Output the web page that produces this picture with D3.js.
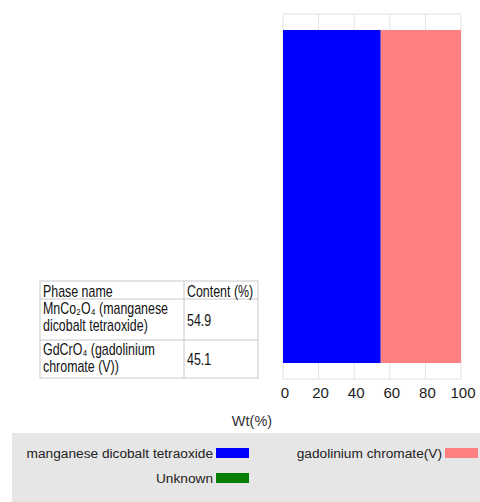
<!DOCTYPE html>
<html>
<head>
<meta charset="utf-8">
<script src="https://cdn.jsdelivr.net/npm/d3@7"></script>
<style>
  body { margin: 0; background: #fff; }
  svg { display: block; font-family: "Liberation Sans", Arial, sans-serif; }
</style>
</head>
<body>
<div id="chart"></div>
<script>
// phases in the sample, stacked left to right
var phases = ["manganese dicobalt tetraoxide", "gadolinium chromate(V)"];
var content = [54.9, 45.1];
var phaseColors = ["#0000ff", "#ff8080"];

// legend entries (includes the empty "Unknown" phase)
var legendLabels = ["manganese dicobalt tetraoxide", "gadolinium chromate(V)", "Unknown"];
var legendColors = ["#0000ff", "#ff8080", "#007f00"];

// table rows
var tableNames = [["MnCo₂O₄ (manganese", "dicobalt tetraoxide)"], ["GdCrO₄ (gadolinium", "chromate (V))"]];
var tableValues = ["54.9", "45.1"];

var xTicks = [0, 20, 40, 60, 80, 100];

var width = 480, height = 502;

var svg = d3.select("#chart").append("svg")
  .attr("width", width)
  .attr("height", height);

// scales
var x = d3.scaleLinear().domain([0, 100]).range([283, 461]);
var y = d3.scaleBand().domain(["sample"]).range([14, 379]).paddingInner(0).paddingOuter(0.048);

// frame + grid
var grid = svg.append("g");
grid.selectAll("line.v")
  .data(xTicks)
  .enter().append("line")
  .attr("x1", d => x(d)).attr("x2", d => x(d))
  .attr("y1", 14).attr("y2", 379)
  .style("stroke", "#e2e2e2");
grid.selectAll("line.h")
  .data([14, 379])
  .enter().append("line")
  .attr("x1", x(0)).attr("x2", x(100))
  .attr("y1", d => d).attr("y2", d => d)
  .style("stroke", "#e2e2e2");

// stacked bar
var starts = [0].concat(Array.from(d3.cumsum(content)).slice(0, -1));
svg.append("g").selectAll("rect")
  .data(content)
  .enter().append("rect")
  .attr("x", (d, i) => x(starts[i]))
  .attr("width", d => x(d) - x(0))
  .attr("y", y("sample"))
  .attr("height", y.bandwidth())
  .style("fill", (d, i) => phaseColors[i]);

// x axis
var xAxis = svg.append("g")
  .attr("transform", "translate(1.5,383)")
  .call(d3.axisBottom(x).tickValues(xTicks).tickSize(0).tickPadding(4));
xAxis.select(".domain").remove();
xAxis.selectAll("text")
  .style("font-family", "'Liberation Sans', Arial, sans-serif")
  .style("font-size", "15px")
  .style("fill", "#222");

svg.append("text")
  .attr("x", 252)
  .attr("y", 426)
  .attr("text-anchor", "middle")
  .style("font-size", "14.5px")
  .style("fill", "#333")
  .text("Wt(%)");

// table
var tbl = svg.append("g");
var colX = [40, 184, 258];
var rowY = [281, 299, 340, 378];
tbl.append("rect")
  .attr("x", colX[0]).attr("y", rowY[0])
  .attr("width", colX[2] - colX[0]).attr("height", rowY[3] - rowY[0])
  .style("fill", "none").style("stroke", "#c8c8c8");
tbl.selectAll("line.r")
  .data(rowY.slice(1, 3))
  .enter().append("line")
  .attr("x1", colX[0]).attr("x2", colX[2])
  .attr("y1", d => d).attr("y2", d => d)
  .style("stroke", "#c8c8c8");
tbl.append("line")
  .attr("x1", colX[1]).attr("x2", colX[1])
  .attr("y1", rowY[0]).attr("y2", rowY[3])
  .style("stroke", "#c8c8c8");

// narrow-looking cell text
function cell(tx, ty, t) {
  tbl.append("text")
    .attr("transform", `translate(${tx},${ty}) scale(0.73,1)`)
    .style("font-size", "17px")
    .style("fill", "#111")
    .text(t);
}

cell(43, 297, "Phase name");
cell(187, 297, "Content (%)");

tableNames.forEach(function(lines, i) {
  lines.forEach(function(t, j) {
    cell(43, rowY[i + 1] + 15 + j * 17, t);
  });
  cell(187, (rowY[i + 1] + rowY[i + 2]) / 2 + 6, tableValues[i]);
});

// legend box
svg.append("rect")
  .attr("x", 12).attr("y", 433)
  .attr("width", 468).attr("height", 69)
  .style("fill", "#e6e6e6");

var legendPos = [[216, 448], [445, 448], [216, 473]];
var legend = svg.append("g").selectAll("g")
  .data(legendLabels)
  .enter().append("g")
  .attr("transform", (d, i) => `translate(${legendPos[i][0]},${legendPos[i][1]})`);
legend.append("rect")
  .attr("width", 33).attr("height", 10)
  .style("fill", (d, i) => legendColors[i]);
legend.append("text")
  .attr("x", -3).attr("y", 10)
  .attr("text-anchor", "end")
  .style("font-size", "13.7px")
  .style("fill", "#222")
  .text(d => d);
</script>
</body>
</html>
